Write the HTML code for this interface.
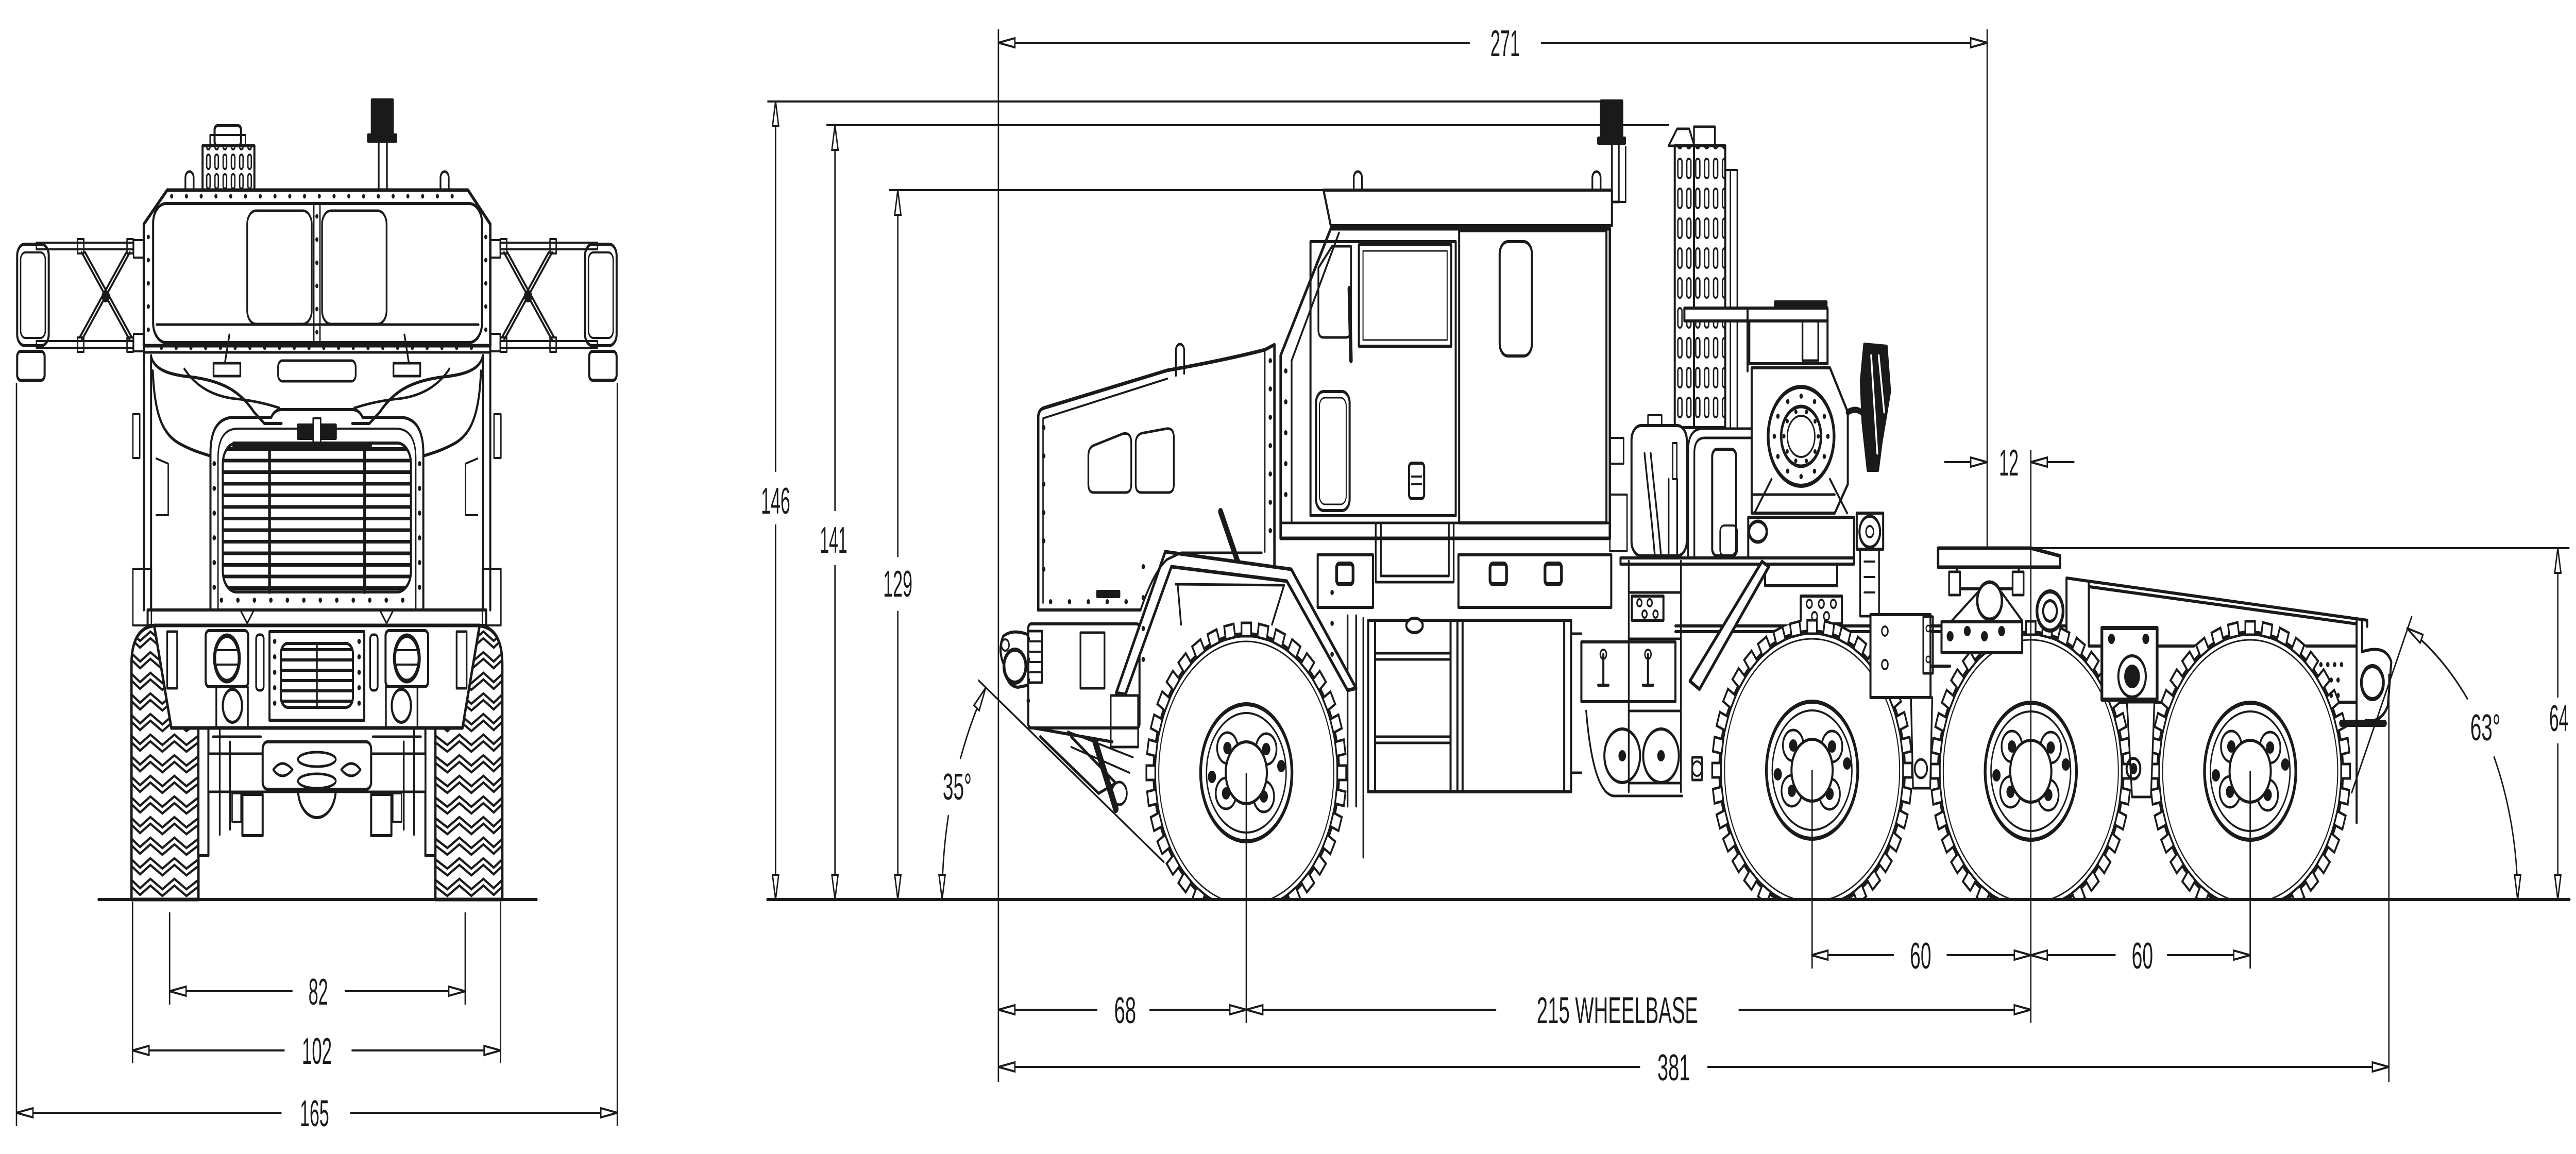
<!DOCTYPE html>
<html><head><meta charset="utf-8"><title>Truck drawing</title>
<style>
html,body{margin:0;padding:0;width:100%;height:100%;overflow:hidden;background:#fff;}
svg{display:block;width:100vw;height:100vh;}
text{font-family:"Liberation Sans",Arial,sans-serif;font-size:72px;fill:#1a1a1a;text-anchor:middle;}
</style></head><body>
<svg xmlns="http://www.w3.org/2000/svg" xmlns:xlink="http://www.w3.org/1999/xlink" width="7503" height="2240" viewBox="0 0 7503 2240" preserveAspectRatio="none">
<defs>
<pattern id="sl" x="4880" y="300" width="26" height="58" patternUnits="userSpaceOnUse"><rect x="7" y="8" width="12" height="38" rx="6" fill="none" stroke="#1a1a1a" stroke-width="4"/></pattern>
<pattern id="sl2" x="596" y="296" width="24" height="38" patternUnits="userSpaceOnUse"><rect x="6" y="4" width="10" height="28" rx="5" fill="none" stroke="#1a1a1a" stroke-width="4"/></pattern>
<pattern id="lv" x="0" y="868" width="40" height="22.5" patternUnits="userSpaceOnUse"><rect x="0" y="0" width="40" height="7" fill="#1a1a1a"/></pattern>
<pattern id="lv2" x="0" y="1258" width="40" height="20" patternUnits="userSpaceOnUse"><rect x="0" y="0" width="40" height="6" fill="#1a1a1a"/></pattern>
<pattern id="trL" x="383" y="1222" width="195" height="40" patternUnits="userSpaceOnUse"><path d="M0,6 L25,22 L55,4 L90,24 L125,4 L160,24 L195,6 M0,19 L25,35 L55,17 L90,37 L125,17 L160,37 L195,19" fill="none" stroke="#1a1a1a" stroke-width="5"/></pattern>
<pattern id="trR" x="1268" y="1222" width="195" height="40" patternUnits="userSpaceOnUse"><path d="M0,6 L35,24 L70,4 L105,24 L140,4 L170,22 L195,6 M0,19 L35,37 L70,17 L105,37 L140,17 L170,35 L195,19" fill="none" stroke="#1a1a1a" stroke-width="5"/></pattern>
<g id="tb" fill="#fff" stroke="#1a1a1a" stroke-width="5">
<rect x="-14" y="-291" width="28" height="26"/>
<rect x="-14" y="-291" width="28" height="26" transform="rotate(10)"/>
<rect x="-14" y="-291" width="28" height="26" transform="rotate(20)"/>
<rect x="-14" y="-291" width="28" height="26" transform="rotate(30)"/>
<rect x="-14" y="-291" width="28" height="26" transform="rotate(40)"/>
<rect x="-14" y="-291" width="28" height="26" transform="rotate(50)"/>
<rect x="-14" y="-291" width="28" height="26" transform="rotate(60)"/>
<rect x="-14" y="-291" width="28" height="26" transform="rotate(70)"/>
<rect x="-14" y="-291" width="28" height="26" transform="rotate(80)"/>
<rect x="-14" y="-291" width="28" height="26" transform="rotate(90)"/>
<rect x="-14" y="-291" width="28" height="26" transform="rotate(100)"/>
<rect x="-14" y="-291" width="28" height="26" transform="rotate(110)"/>
<rect x="-14" y="-291" width="28" height="26" transform="rotate(120)"/>
<rect x="-14" y="-291" width="28" height="26" transform="rotate(130)"/>
<rect x="-14" y="-291" width="28" height="26" transform="rotate(140)"/>
<rect x="-14" y="-291" width="28" height="26" transform="rotate(150)"/>
<rect x="-14" y="-291" width="28" height="26" transform="rotate(160)"/>
<rect x="-14" y="-291" width="28" height="26" transform="rotate(170)"/>
<rect x="-14" y="-291" width="28" height="26" transform="rotate(180)"/>
<rect x="-14" y="-291" width="28" height="26" transform="rotate(190)"/>
<rect x="-14" y="-291" width="28" height="26" transform="rotate(200)"/>
<rect x="-14" y="-291" width="28" height="26" transform="rotate(210)"/>
<rect x="-14" y="-291" width="28" height="26" transform="rotate(220)"/>
<rect x="-14" y="-291" width="28" height="26" transform="rotate(230)"/>
<rect x="-14" y="-291" width="28" height="26" transform="rotate(240)"/>
<rect x="-14" y="-291" width="28" height="26" transform="rotate(250)"/>
<rect x="-14" y="-291" width="28" height="26" transform="rotate(260)"/>
<rect x="-14" y="-291" width="28" height="26" transform="rotate(270)"/>
<rect x="-14" y="-291" width="28" height="26" transform="rotate(280)"/>
<rect x="-14" y="-291" width="28" height="26" transform="rotate(290)"/>
<rect x="-14" y="-291" width="28" height="26" transform="rotate(300)"/>
<rect x="-14" y="-291" width="28" height="26" transform="rotate(310)"/>
<rect x="-14" y="-291" width="28" height="26" transform="rotate(320)"/>
<rect x="-14" y="-291" width="28" height="26" transform="rotate(330)"/>
<rect x="-14" y="-291" width="28" height="26" transform="rotate(340)"/>
<rect x="-14" y="-291" width="28" height="26" transform="rotate(350)"/>
</g>
<g id="wh">
<circle r="290" fill="#fff"/>
<circle r="268" fill="none" stroke="#1a1a1a" stroke-width="10"/>
<circle r="255" fill="none" stroke="#1a1a1a" stroke-width="3"/>
<use href="#tb" xlink:href="#tb"/>
<g fill="none" stroke="#1a1a1a">
<circle r="133" stroke-width="8"/>
<circle r="116" stroke-width="4"/>
<circle cx="-55" cy="-48" r="30" stroke-width="5"/>
<circle cx="58" cy="-46" r="30" stroke-width="5"/>
<circle cx="-59" cy="40" r="30" stroke-width="5"/>
<circle cx="51" cy="46" r="30" stroke-width="5"/>
</g>
<g fill="#1a1a1a">
<circle cx="-55" cy="-48" r="12"/><circle cx="58" cy="-46" r="12"/><circle cx="-59" cy="40" r="12"/><circle cx="51" cy="46" r="12"/>
<circle cx="-100" cy="8" r="12"/><circle cx="102" cy="-13" r="12"/>
</g>
<circle r="60" fill="#fff" stroke="#1a1a1a" stroke-width="6"/>
</g>
<clipPath id="gc"><rect x="0" y="0" width="7503" height="1748"/></clipPath>
</defs>
<rect width="7503" height="2240" fill="#fff"/>

<!-- ================= FRONT VIEW ================= -->
<g fill="none" stroke="#1a1a1a" stroke-width="6" stroke-linejoin="round" stroke-linecap="round">
<rect x="50" y="474" width="92" height="197" rx="22"/>
<rect x="60" y="490" width="72" height="166" rx="14" stroke-width="4"/>
<rect x="50" y="682" width="80" height="56" rx="10"/>
<rect x="106" y="471" width="283" height="13" stroke-width="4"/>
<rect x="106" y="662" width="283" height="13" stroke-width="4"/>
<rect x="226" y="464" width="18" height="28" stroke-width="4"/>
<rect x="370" y="464" width="18" height="28" stroke-width="4"/>
<rect x="226" y="655" width="18" height="28" stroke-width="4"/>
<rect x="370" y="655" width="18" height="28" stroke-width="4"/>
<path d="M238,490 L378,660 M378,490 L238,660 M248,490 L384,655 M368,490 L232,655" stroke-width="5"/>
<circle cx="308" cy="575" r="9" fill="#1a1a1a"/>
<rect x="389" y="466" width="30" height="34" stroke-width="4"/>
<rect x="389" y="648" width="30" height="34" stroke-width="4"/>
<rect x="1704" y="474" width="92" height="197" rx="22"/>
<rect x="1714" y="490" width="72" height="166" rx="14" stroke-width="4"/>
<rect x="1716" y="682" width="80" height="56" rx="10"/>
<rect x="1457" y="471" width="283" height="13" stroke-width="4"/>
<rect x="1457" y="662" width="283" height="13" stroke-width="4"/>
<rect x="1602" y="464" width="18" height="28" stroke-width="4"/>
<rect x="1458" y="464" width="18" height="28" stroke-width="4"/>
<rect x="1602" y="655" width="18" height="28" stroke-width="4"/>
<rect x="1458" y="655" width="18" height="28" stroke-width="4"/>
<path d="M1608,490 L1468,660 M1468,490 L1608,660 M1598,490 L1462,655 M1478,490 L1614,655" stroke-width="5"/>
<circle cx="1538" cy="575" r="9" fill="#1a1a1a"/>
<rect x="1427" y="466" width="30" height="34" stroke-width="4"/>
<rect x="1427" y="648" width="30" height="34" stroke-width="4"/>
<rect x="1083" y="194" width="61" height="68" fill="#1a1a1a"/>
<rect x="1072" y="262" width="82" height="12" fill="#1a1a1a"/>
<rect x="1103" y="274" width="24" height="95" stroke-width="5"/>
<rect x="590" y="283" width="151" height="86" fill="url(#sl2)"/>
<rect x="625" y="244" width="77" height="39" rx="8"/>
<rect x="612" y="262" width="103" height="21" stroke-width="4"/>
<path d="M540,369 L540,345 A12,12 0 0 1 564,345 L564,369 M1283,369 L1283,345 A12,12 0 0 1 1307,345 L1307,369" stroke-width="5"/>
<path d="M487,369 L1363,369 L1428,435 L1428,671 L419,671 L419,435 Z" stroke-width="7"/>
<rect x="446" y="395" width="958" height="270" rx="38"/>
<rect x="914" y="395" width="18" height="270" stroke-width="4"/>
<rect x="720" y="409" width="188" height="220" rx="26" stroke-width="5"/>
<rect x="938" y="409" width="188" height="220" rx="26" stroke-width="5"/>
<path d="M456,630 L1394,630" stroke-width="5"/>
<path d="M500,381 L1350,381 M470,675 L1380,675" stroke-width="9" stroke-dasharray="0 43"/>
<path d="M923,420 L923,650 M432,460 L432,650 M1415,460 L1415,650" stroke-width="9" stroke-dasharray="0 45"/>
<path d="M419,671 L419,1184 M440,690 L440,1184 M1428,671 L1428,1184 M1407,690 L1407,1184"/>
<path d="M419,684 L1428,684" stroke-width="5"/>
<rect x="810" y="700" width="226" height="40" rx="12" stroke-width="5"/>
<path d="M622,705 L700,705 L700,730 L622,730 Z M655,705 L668,650 M1146,705 L1224,705 L1224,730 L1146,730 Z M1191,705 L1178,650" stroke-width="5"/>
<path d="M440,692 C450,720 500,728 560,732 C650,740 700,760 740,800 L770,822 L820,822"/>
<path d="M1406,692 C1396,720 1346,728 1286,732 C1196,740 1146,760 1106,800 L1076,822 L1026,822"/>
<path d="M445,720 C450,800 470,840 520,860 C560,875 590,880 613,885"/>
<path d="M1401,720 C1396,800 1376,840 1326,860 C1286,875 1256,880 1233,885"/>
<path d="M537,716 Q590,770 700,775 Q760,780 814,792 M1309,716 Q1256,770 1146,775 Q1086,780 1032,792" stroke-width="5"/>
<rect x="387" y="804" width="20" height="85" stroke-width="4"/>
<rect x="1439" y="804" width="20" height="85" stroke-width="4"/>
<rect x="387" y="1104" width="54" height="110" stroke-width="4"/>
<rect x="1405" y="1104" width="54" height="110" stroke-width="4"/>
<path d="M455,890 L490,900 L490,1000 L455,1000 M1391,890 L1356,900 L1356,1000 L1391,1000" stroke-width="4"/>
<path d="M613,1184 L613,880 Q613,810 683,810 L790,810 Q800,795 820,795 L1026,795 Q1046,795 1056,810 L1163,810 Q1233,810 1233,880 L1233,1184"/>
<path d="M635,1184 L635,890 Q635,832 693,832 L1153,832 Q1211,832 1211,890 L1211,1184" stroke-width="4"/>
<rect x="868" y="825" width="110" height="26" fill="#1a1a1a"/>
<rect x="912" y="812" width="22" height="55" stroke-width="4" fill="#fff"/>
<rect x="649" y="860" width="548" height="289" rx="40" fill="url(#lv)"/>
<rect x="680" y="860" width="400" height="10" fill="#1a1a1a"/>
<path d="M785,862 L785,1149 M1062,862 L1062,1149" stroke-width="8"/>
<path d="M624,900 L624,1150 M1222,900 L1222,1150 M645,1165 L1205,1165" stroke-width="10" stroke-dasharray="0 48"/>
<rect x="430" y="1184" width="986" height="30"/>
<path d="M700,1184 L720,1210 L740,1184 M1106,1184 L1126,1210 L1146,1184" stroke-width="4"/>
<path d="M383,1746 L383,1290 Q383,1214 460,1214 L501,1214 Q578,1214 578,1290 L578,1746 Z" fill="url(#trL)" stroke-width="7"/>
<path d="M1268,1746 L1268,1290 Q1268,1214 1345,1214 L1386,1214 Q1463,1214 1463,1290 L1463,1746 Z" fill="url(#trR)" stroke-width="7"/>
<rect x="578" y="1413" width="29" height="248" fill="#fff"/>
<rect x="1239" y="1413" width="29" height="248" fill="#fff"/>
<rect x="607" y="1463" width="632" height="74" stroke-width="5" fill="#fff"/>
<path d="M640,1413 L640,1620 M670,1440 L670,1610 M1206,1413 L1206,1620 M1176,1440 L1176,1610 M620,1430 L760,1430 M1086,1430 L1226,1430" stroke-width="5"/>
<rect x="765" y="1440" width="316" height="92" rx="14" fill="#fff"/>
<ellipse cx="923" cy="1474" rx="55" ry="14" stroke-width="5"/>
<ellipse cx="923" cy="1516" rx="55" ry="14" stroke-width="5"/>
<path d="M796,1494 Q822,1470 852,1494 Q822,1518 796,1494 Z M1050,1494 Q1024,1470 994,1494 Q1024,1518 1050,1494 Z" stroke-width="5"/>
<path d="M868,1532 A55,55 0 0 0 978,1532" stroke-width="6"/>
<rect x="706" y="1542" width="59" height="80" fill="#fff"/>
<rect x="1081" y="1542" width="59" height="80" fill="#fff"/>
<rect x="676" y="1540" width="26" height="55" stroke-width="4"/>
<rect x="1144" y="1540" width="26" height="55" stroke-width="4"/>
<path d="M449,1214 L1397,1214 L1347,1413 L499,1413 Z" fill="#fff" stroke-width="7"/>
<rect x="487" y="1226" width="29" height="110" stroke-width="5"/>
<rect x="1330" y="1226" width="29" height="110" stroke-width="5"/>
<rect x="599" y="1224" width="124" height="109" rx="10"/>
<rect x="1123" y="1224" width="124" height="109" rx="10"/>
<ellipse cx="661" cy="1278" rx="36" ry="44" stroke-width="9"/>
<ellipse cx="1185" cy="1278" rx="36" ry="44" stroke-width="9"/>
<path d="M630,1262 L692,1262 M630,1290 L692,1290 M1154,1262 L1216,1262 M1154,1290 L1216,1290" stroke-width="4"/>
<rect x="746" y="1232" width="22" height="108" rx="8" stroke-width="5"/>
<rect x="1078" y="1232" width="22" height="108" rx="8" stroke-width="5"/>
<rect x="785" y="1226" width="276" height="172"/>
<rect x="818" y="1249" width="210" height="124" rx="20" fill="url(#lv2)"/>
<path d="M923,1249 L923,1373" stroke-width="5"/>
<path d="M800,1245 L800,1385 M1046,1245 L1046,1385" stroke-width="10" stroke-dasharray="0 30"/>
<rect x="630" y="1333" width="92" height="80" stroke-width="5"/>
<rect x="1124" y="1333" width="92" height="80" stroke-width="5"/>
<ellipse cx="677" cy="1370" rx="28" ry="32" stroke-width="6"/>
<ellipse cx="1169" cy="1370" rx="28" ry="32" stroke-width="6"/>
<path d="M287,1746 L1563,1746"/>
</g>

<g fill="none" stroke="#1a1a1a" stroke-width="4">
<path d="M494,1924 L852,1924 M1004,1924 L1355,1924 M386,2039 L829,2039 M1024,2039 L1458,2039 M48,2160 L820,2160 M1020,2160 L1798,2160"/>
<path d="M48,743 L48,2186 M1798,743 L1798,2186 M386,1750 L386,2064 M1458,1750 L1458,2064 M494,1771 L494,1950 M1355,1771 L1355,1950"/>
</g>
<g fill="#fff" stroke="#1a1a1a" stroke-width="4" stroke-linejoin="miter">
<polygon points="494,1924 542,1915 542,1933"/><polygon points="1355,1924 1307,1915 1307,1933"/>
<polygon points="386,2039 434,2030 434,2048"/><polygon points="1458,2039 1410,2030 1410,2048"/>
<polygon points="48,2160 96,2151 96,2169"/><polygon points="1798,2160 1750,2151 1750,2169"/>
</g>
<text x="927" y="1950" textLength="57" lengthAdjust="spacingAndGlyphs">82</text>
<text x="923" y="2065" textLength="87" lengthAdjust="spacingAndGlyphs">102</text>
<text x="916" y="2186" textLength="85" lengthAdjust="spacingAndGlyphs">165</text>

<!-- ================= SIDE VIEW ================= -->
<g fill="none" stroke="#1a1a1a" stroke-width="6" stroke-linejoin="round" stroke-linecap="round">
<path d="M3024,1184 L3024,808 Q3026,795 3040,792 L3399,719 Q3560,700 3684,679 L3712,669 L3712,1105" stroke-width="7"/>
<path d="M3038,1170 L3038,812 L3400,735 M3684,679 L3684,1071" stroke-width="4"/>
<path d="M3024,1184 L3322,1184"/>
<path d="M3040,830 L3040,1160 M3060,1168 L3320,1168 M3700,700 L3700,1060" stroke-width="10" stroke-dasharray="0 55"/>
<path d="M3170,940 L3170,885 Q3170,868 3188,864 L3270,842 Q3295,838 3295,860 L3295,940 Q3295,956 3279,956 L3186,956 Q3170,956 3170,940 Z" stroke-width="5"/>
<path d="M3308,940 L3308,860 Q3308,845 3325,841 L3398,832 Q3419,830 3419,850 L3419,940 Q3419,956 3403,956 L3324,956 Q3308,956 3308,940 Z" stroke-width="5"/>
<path d="M3425,729 L3425,680 A12,12 0 0 1 3449,680 L3449,725" stroke-width="5"/>
<rect x="3196" y="1148" width="64" height="10" fill="#1a1a1a"/>
<path d="M3555,993 L3610,1100" stroke-width="14"/>
<rect x="2995" y="1211" width="324" height="202" rx="8"/>
<rect x="3147" y="1228" width="70" height="108" stroke-width="5"/>
<path d="M2995,1240 L2995,1400" stroke-width="10" stroke-dasharray="0 40"/>
<path d="M2922,1235 Q2905,1262 2925,1292 Q2930,1332 2965,1334 L2995,1330 L2995,1232 Q2950,1220 2922,1235 Z" fill="#fff"/>
<circle cx="2956" cy="1293" r="32" stroke-width="8"/>
<circle cx="2928" cy="1252" r="11" stroke-width="4"/>
<rect x="2995" y="1225" width="40" height="100" stroke-width="5"/>
<path d="M3000,1245 L3030,1245 M3000,1265 L3030,1265 M3000,1285 L3030,1285 M3000,1305 L3030,1305" stroke-width="4"/>
<path d="M3010,1413 L3240,1440 M3030,1430 L3200,1540 L3250,1520 L3120,1430"/>
<path d="M3190,1440 L3250,1570" stroke-width="16"/>
<rect x="3235" y="1350" width="80" height="100" stroke-width="5"/>
<path d="M3110,1420 L3300,1470 M3120,1450 L3290,1500" stroke-width="4"/>
<circle cx="3260" cy="1540" r="22" stroke-width="5"/>
<path d="M3855,369 L4695,369 L4695,438 L3876,438 Z"/>
<path d="M3943,369 L3943,345 A12,12 0 0 1 3967,345 L3967,369 M4638,369 L4638,345 A12,12 0 0 1 4662,345 L4662,369" stroke-width="5"/>
<path d="M3876,444 L4689,444 L4689,1045 L3730,1045 L3730,690 Z" stroke-width="7"/>
<path d="M3900,452 L3762,700 L3762,1015 M3730,1015 L4689,1015" stroke-width="5"/>
<path d="M3745,720 L3745,1000" stroke-width="10" stroke-dasharray="0 60"/>
<rect x="3817" y="469" width="423" height="532"/>
<rect x="3958" y="475" width="269" height="197"/>
<rect x="3970" y="487" width="245" height="173" stroke-width="3"/>
<path d="M3840,640 L3840,520 L3880,478 L3935,478 L3935,640 Q3935,655 3920,655 L3855,655 Q3840,655 3840,640 Z" stroke-width="5"/>
<path d="M3930,560 L3935,700" stroke-width="10"/>
<rect x="3833" y="760" width="98" height="231" rx="22"/>
<rect x="3843" y="772" width="78" height="207" rx="16" stroke-width="3"/>
<rect x="4104" y="899" width="44" height="69" rx="8"/>
<path d="M4112,925 L4140,925 M4112,940 L4140,940" stroke-width="4"/>
<rect x="4250" y="448" width="429" height="567"/>
<rect x="4368" y="469" width="94" height="222" rx="24"/>
<path d="M4007,1015 L4007,1130 L4234,1130 L4234,1015 M4022,1015 L4022,1118 L4220,1118 L4220,1015" stroke-width="5"/>
<rect x="3838" y="1077" width="161" height="102"/>
<rect x="3893" y="1094" width="48" height="40" rx="8" stroke-width="8"/>
<rect x="4248" y="1077" width="445" height="102"/>
<rect x="4340" y="1094" width="48" height="40" rx="8" stroke-width="8"/>
<rect x="4500" y="1094" width="48" height="40" rx="8" stroke-width="8"/>
<rect x="4663" y="196" width="62" height="74" fill="#1a1a1a"/>
<rect x="4655" y="268" width="78" height="10" fill="#1a1a1a"/>
<rect x="4695" y="278" width="20" height="114" stroke-width="5"/>
<path d="M4715,392 L4735,392 L4735,285" stroke-width="4"/>
<rect x="4689" y="850" width="40" height="50" stroke-width="4"/>
<rect x="4689" y="960" width="50" height="110" stroke-width="4"/>
<path d="M4860,283 L4885,250 L4920,250 L4935,283 Z M4934,283 L4934,246 L4995,246 L4995,283" stroke-width="5"/>
<rect x="4878" y="283" width="56" height="547" fill="url(#sl)"/>
<rect x="4934" y="283" width="91" height="547" fill="url(#sl)"/>
<path d="M5025,330 L5060,330 L5060,830 M5040,330 L5040,830" stroke-width="4"/>
<rect x="4752" y="826" width="161" height="253" rx="28" fill="#fff"/>
<rect x="4800" y="806" width="40" height="20" stroke-width="4"/>
<path d="M4790,880 C4800,950 4810,1000 4820,1079 M4808,880 C4818,950 4828,1000 4838,1079 M4860,930 L4860,1079 M4885,930 L4885,1079" stroke-width="5"/>
<rect x="4872" y="860" width="12" height="70" stroke-width="4"/>
<path d="M4917,1079 L4917,875 Q4917,832 4960,832 L5125,832 M4935,1079 L4935,880 Q4935,850 4965,850 L5125,850" stroke-width="5"/>
<rect x="4987" y="872" width="70" height="207" rx="14"/>
<rect x="5010" y="1020" width="50" height="59" rx="12" stroke-width="4"/>
<rect x="4906" y="598" width="417" height="25" fill="#fff"/>
<rect x="5170" y="586" width="150" height="12" fill="#1a1a1a"/>
<rect x="5095" y="623" width="228" height="83"/>
<rect x="5250" y="623" width="46" height="77" stroke-width="5"/>
<path d="M5090,598 L5090,720"/>
<path d="M5102,714 L5330,714 L5382,800 L5382,940 L5344,996 L5102,996 Z" fill="#fff"/>
<circle cx="5246" cy="847" r="96" stroke-width="8"/>
<circle cx="5246" cy="847" r="78" stroke-width="10" stroke-dasharray="0 40.84"/>
<circle cx="5246" cy="847" r="58" stroke-width="7"/>
<circle cx="5246" cy="847" r="50" stroke-width="9" stroke-dasharray="0 31.4"/>
<circle cx="5246" cy="847" r="40" stroke-width="4"/>
<path d="M5160,930 L5110,996 M5330,930 L5380,996 M5102,960 L5344,960" stroke-width="5"/>
<rect x="5092" y="1004" width="308" height="79" fill="#fff"/>
<ellipse cx="5120" cy="1032" rx="26" ry="20" stroke-width="7"/>
<path d="M5430,668 L5495,672 L5505,760 L5480,860 L5470,913 L5440,913 L5425,820 L5420,740 Z" fill="#1a1a1a"/>
<path d="M5450,690 L5468,880 M5472,690 L5488,800" stroke="#fff" stroke-width="5"/>
<path d="M5382,800 Q5420,785 5440,820" stroke-width="12"/>
<rect x="5408" y="996" width="77" height="70" fill="#fff"/>
<circle cx="5446" cy="1032" r="30" stroke-width="6"/>
<circle cx="5446" cy="1032" r="11" stroke-width="4"/>
<rect x="5418" y="1066" width="55" height="130" stroke-width="5"/>
<path d="M5430,1090 L5460,1090 M5430,1120 L5460,1120 M5430,1150 L5460,1150" stroke-width="4"/>
<rect x="4720" y="1083" width="680" height="12"/>
<path d="M5141,1095 L5141,1137 L5351,1137 L5351,1095"/>
<path d="M4880,1215 L6019,1215 M4880,1226 L5700,1226 M5440,1293 L5680,1293"/>
<rect x="5245" y="1157" width="120" height="54" fill="#fff"/>
<circle cx="5270" cy="1172" r="8" stroke-width="4"/><circle cx="5305" cy="1172" r="8" stroke-width="4"/><circle cx="5340" cy="1172" r="8" stroke-width="4"/>
<circle cx="5285" cy="1196" r="8" stroke-width="4"/><circle cx="5320" cy="1196" r="8" stroke-width="4"/>
<rect x="4753" y="1157" width="92" height="47"/>
<circle cx="4775" cy="1170" r="7" stroke-width="4"/><circle cx="4805" cy="1170" r="7" stroke-width="4"/><circle cx="4790" cy="1192" r="7" stroke-width="4"/><circle cx="4822" cy="1192" r="7" stroke-width="4"/>
<rect x="3985" y="1204" width="591" height="333"/>
<path d="M4245,1204 L4245,1537 M4005,1204 L4005,1537 M4225,1204 L4225,1537 M4260,1204 L4260,1537 M4556,1204 L4556,1537"/>
<path d="M4005,1268 L4225,1268 M4005,1280 L4225,1280 M4005,1430 L4225,1430 M4005,1442 L4225,1442" stroke-width="5"/>
<ellipse cx="4120" cy="1214" rx="24" ry="14" fill="#fff"/>
<path d="M3925,1195 L3925,1565 M3950,1195 L3950,1565 M3971,1200 L3971,1664" stroke-width="5"/>
<path d="M4576,1230 L4606,1230 M4576,1500 L4606,1500" stroke-width="5"/>
<rect x="4606" y="1246" width="274" height="116" fill="#fff"/>
<path d="M4670,1270 L4670,1330 M4655,1330 L4685,1330 M4800,1270 L4800,1330 M4785,1330 L4815,1330" stroke-width="6"/>
<circle cx="4670" cy="1270" r="9" stroke-width="4"/><circle cx="4800" cy="1270" r="9" stroke-width="4"/>
<circle cx="4725" cy="1467" r="52" fill="#fff"/>
<circle cx="4838" cy="1467" r="52" fill="#fff"/>
<circle cx="4725" cy="1467" r="8" fill="#1a1a1a"/><circle cx="4838" cy="1467" r="8" fill="#1a1a1a"/>
<path d="M4744,1089 L4744,1537 M4896,1089 L4896,1537 M4744,1150 L4896,1150 M4744,1240 L4896,1240 M4744,1380 L4896,1380 M4744,1520 L4896,1520" stroke-width="5"/>
<path d="M4620,1380 Q4640,1540 4700,1545 L4900,1545" stroke-width="5"/>
<path d="M6019,1122 L6895,1204 L6895,1216 M6087,1139 L6864,1211 M6019,1122 L6019,1254 M6084,1130 L6084,1254 M6084,1254 L6864,1254 M6168,1363 L6864,1363 M6864,1200 L6864,1597 M6880,1205 L6880,1265"/>
<path d="M6150,1240 L6150,1250 M6600,1240 L6600,1250" stroke-width="8"/>
</g>

<g clip-path="url(#gc)">
<use href="#wh" xlink:href="#wh" x="3630" y="1500"/>
<use href="#wh" xlink:href="#wh" x="5278" y="1495"/>
<use href="#wh" xlink:href="#wh" x="5915" y="1497"/>
<use href="#wh" xlink:href="#wh" x="6554" y="1497"/>
</g>

<g fill="none" stroke="#1a1a1a" stroke-width="6" stroke-linejoin="round" stroke-linecap="round">
<path d="M3251,1345 L3394,1071 L3761,1105 L3950,1336 L3925,1340 L3748,1128 L3412,1100 L3278,1348 Z" fill="#fff" stroke-width="7"/>
<path d="M3424,1134 L3740,1136 M3430,1134 L3440,1212 M3740,1136 L3705,1212" stroke-width="5"/>
<path d="M3322,1184 Q3360,1110 3399,1086 L3440,1073 L3675,1073" stroke-width="5"/>
<path d="M3330,1100 L3330,1330 M3880,1150 L3880,1330" stroke-width="10" stroke-dasharray="0 60"/>
<path d="M4922,1322 L5132,1090 L5152,1100 L4950,1338 Z" fill="#fff" stroke-width="7"/>
<path d="M4929,1470 L4957,1470 L4957,1514 L4929,1514 Z" stroke-width="5"/>
<circle cx="4943" cy="1492" r="14" stroke-width="4"/>
<rect x="5448" y="1193" width="175" height="161" fill="#fff"/>
<rect x="5602" y="1197" width="28" height="110" stroke-width="5"/>
<circle cx="5490" cy="1225" r="9" stroke-width="4"/><circle cx="5490" cy="1290" r="9" stroke-width="4"/><circle cx="5616" cy="1220" r="6" stroke-width="3"/><circle cx="5616" cy="1280" r="6" stroke-width="3"/>
<path d="M5566,1354 L5628,1354 L5622,1530 L5572,1530 Z" fill="#fff" stroke-width="5"/>
<circle cx="5595" cy="1492" r="18" stroke-width="5"/>
<path d="M5645,1064 L5915,1064 L6000,1079 L6000,1101 L5645,1101 Z" fill="#fff" stroke-width="7"/>
<rect x="5700" y="1101" width="180" height="42" fill="#fff"/>
<rect x="5677" y="1110" width="32" height="45" fill="#fff" stroke-width="5"/>
<rect x="5862" y="1110" width="32" height="45" fill="#fff" stroke-width="5"/>
<circle cx="5795" cy="1166" r="36" fill="#fff" stroke-width="7"/>
<path d="M5685,1205 L5760,1150 M5830,1150 L5890,1205" stroke-width="5"/>
<rect x="5655" y="1207" width="235" height="60" fill="#fff"/>
<circle cx="5680" cy="1235" r="7" fill="#1a1a1a"/><circle cx="5730" cy="1225" r="7" fill="#1a1a1a"/><circle cx="5780" cy="1235" r="7" fill="#1a1a1a"/><circle cx="5830" cy="1225" r="7" fill="#1a1a1a"/>
<circle cx="5971" cy="1186" r="38" fill="#fff" stroke-width="8"/>
<circle cx="5971" cy="1186" r="20" stroke-width="6"/>
<rect x="6122" y="1219" width="161" height="139" fill="#fff" stroke-width="8"/>
<circle cx="6210" cy="1313" r="40" stroke-width="6"/>
<circle cx="6210" cy="1313" r="20" fill="#1a1a1a"/>
<circle cx="6150" cy="1240" r="7" fill="#1a1a1a"/><circle cx="6250" cy="1240" r="7" fill="#1a1a1a"/>
<path d="M6195,1363 L6275,1363 L6265,1547 L6210,1547 Z" fill="#fff" stroke-width="5"/>
<circle cx="6214" cy="1492" r="20" stroke-width="6"/>
<circle cx="6214" cy="1492" r="8" fill="#1a1a1a"/>
<path d="M6880,1265 Q6950,1250 6965,1285 L6955,1370 Q6935,1405 6890,1398" fill="#fff" stroke-width="6"/>
<circle cx="6910" cy="1325" r="32" stroke-width="8"/>
<path d="M6820,1404 L6945,1404" stroke-width="14"/>
<path d="M6760,1290 L6830,1290 M6790,1320 L6830,1320 M6790,1350 L6830,1350" stroke-width="10" stroke-dasharray="0 20"/>
<path d="M2235,1746 L7484,1746"/>
</g>

<g fill="none" stroke="#1a1a1a" stroke-width="4">
<path d="M2908,83 L4281,83 M4488,83 L5788,83 M2908,57 L2908,2100 M5788,57 L5788,1064"/>
<path d="M5663,897 L5788,897 M5915,897 L6042,897 M5915,874 L5915,1986"/>
<path d="M2259,197 L2259,916 M2259,1018 L2259,1746 M2432,243 L2432,992 M2432,1097 L2432,1746 M2615,369 L2615,1081 M2615,1186 L2615,1746"/>
<path d="M2235,197 L4668,197 M2407,243 L4861,243 M2590,369 L3855,369"/>
<path d="M5917,1064 L7484,1064 M7450,1064 L7450,1354 M7450,1443 L7450,1746"/>
<path d="M5276,1854 L5516,1854 M5670,1854 L5915,1854 M5915,1854 L6162,1854 M6312,1854 L6554,1854"/>
<path d="M3630,1500 L3630,1986 M5278,1495 L5278,1880 M6554,1497 L6554,1880"/>
<path d="M2908,1960 L3196,1960 M3348,1960 L3630,1960 M3630,1960 L4358,1960 M5064,1960 L5915,1960"/>
<path d="M2908,2071 L4777,2071 M4973,2071 L6958,2071 M6958,1308 L6958,2100"/>
<path d="M2849,1320 L3391,1674 M6849,1540 L7025,1196"/>
<path d="M2744,1746 A728,728 0 0 1 2762.6,1582.2 M2797,1473.3 A728,728 0 0 1 2871.3,1334.7"/>
<path d="M7333,1746 A592,592 0 0 0 7263.7,1468.1 M7187.8,1357.6 A592,592 0 0 0 7009.8,1218.5"/>
</g>
<g fill="#fff" stroke="#1a1a1a" stroke-width="4" stroke-linejoin="miter">
<polygon points="2908,83 2956,74 2956,92"/><polygon points="5788,83 5740,74 5740,92"/>
<polygon points="5788,897 5740,888 5740,906"/><polygon points="5915,897 5963,888 5963,906"/>
<polygon points="2259,197 2250,245 2268,245"/><polygon points="2259,1746 2250,1698 2268,1698"/>
<polygon points="2432,243 2423,291 2441,291"/><polygon points="2432,1746 2423,1698 2441,1698"/>
<polygon points="2615,369 2606,417 2624,417"/><polygon points="2615,1746 2606,1698 2624,1698"/>
<polygon points="7450,1064 7441,1112 7459,1112"/><polygon points="7450,1746 7441,1698 7459,1698"/>
<polygon points="5276,1854 5324,1845 5324,1863"/><polygon points="5915,1854 5867,1845 5867,1863"/>
<polygon points="5915,1854 5963,1845 5963,1863"/><polygon points="6554,1854 6506,1845 6506,1863"/>
<polygon points="2908,1960 2956,1951 2956,1969"/><polygon points="3630,1960 3582,1951 3582,1969"/>
<polygon points="3630,1960 3678,1951 3678,1969"/><polygon points="5915,1960 5867,1951 5867,1969"/>
<polygon points="2908,2071 2956,2062 2956,2080"/><polygon points="6958,2071 6910,2062 6910,2080"/>
<polygon points="2744,1746 2735,1698 2753,1698"/><polygon points="2871,1335 2852,1379 2837,1369"/>
<polygon points="7333,1746 7324,1698 7342,1698"/><polygon points="7010,1219 7057,1232 7049,1248"/>
</g>
<text x="4384" y="109" textLength="86" lengthAdjust="spacingAndGlyphs">271</text>
<text x="5851" y="923" textLength="57" lengthAdjust="spacingAndGlyphs">12</text>
<text x="2259" y="997" textLength="85" lengthAdjust="spacingAndGlyphs">146</text>
<text x="2428" y="1073" textLength="80" lengthAdjust="spacingAndGlyphs">141</text>
<text x="2615" y="1158" textLength="85" lengthAdjust="spacingAndGlyphs">129</text>
<text x="2788" y="1552" textLength="84" lengthAdjust="spacingAndGlyphs">35°</text>
<text x="7239" y="1437" textLength="88" lengthAdjust="spacingAndGlyphs">63°</text>
<text x="7453" y="1419" textLength="56" lengthAdjust="spacingAndGlyphs">64</text>
<text x="5594" y="1880" textLength="62" lengthAdjust="spacingAndGlyphs">60</text>
<text x="6240" y="1880" textLength="62" lengthAdjust="spacingAndGlyphs">60</text>
<text x="3277" y="1986" textLength="64" lengthAdjust="spacingAndGlyphs">68</text>
<text x="4711" y="1986" textLength="470" lengthAdjust="spacingAndGlyphs">215 WHEELBASE</text>
<text x="4875" y="2097" textLength="95" lengthAdjust="spacingAndGlyphs">381</text>
</svg>
</body></html>
